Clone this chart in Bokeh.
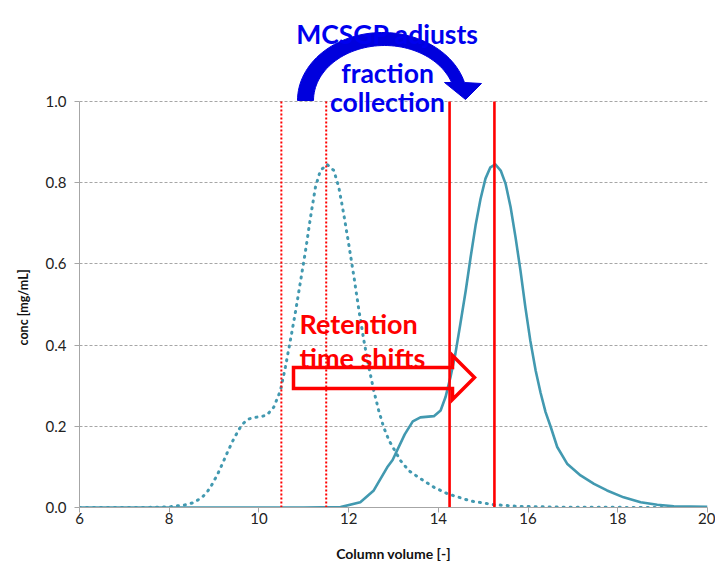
import numpy as np
from bokeh.plotting import figure
from bokeh.models import Range1d, FixedTicker, Title
from bokeh.core.properties import value
from bokeh.embed import file_html
from bokeh.resources import INLINE

# ---------------- data ----------------
# solid curve (peak after the retention time shift)
solid_x = [6.0, 11.0, 11.82, 12.26, 12.56, 12.86, 12.98, 13.25, 13.43, 13.60, 13.90, 14.05,
           14.16, 14.27, 14.38, 14.49, 14.61, 14.72, 14.83, 14.94, 15.05, 15.16, 15.27,
           15.39, 15.50, 15.61, 15.72, 15.83, 15.94, 16.05, 16.17, 16.28, 16.39, 16.50,
           16.65, 16.87, 17.17, 17.47, 17.76, 18.13, 18.51, 18.88, 19.25, 20.0]
solid_y = [0.0, 0.0, 0.001, 0.013, 0.042, 0.099, 0.117, 0.18, 0.212, 0.222, 0.225, 0.239,
           0.272, 0.321, 0.379, 0.452, 0.534, 0.617, 0.695, 0.760, 0.810, 0.838, 0.845,
           0.830, 0.797, 0.740, 0.666, 0.584, 0.493, 0.411, 0.337, 0.282, 0.235, 0.200,
           0.149, 0.108, 0.079, 0.058, 0.042, 0.025, 0.013, 0.0066, 0.003, 0.0015]
# dotted curve (original peak)
dotted_x = [6.0, 7.5, 8.03, 8.36, 8.51, 8.62, 8.75, 8.85, 8.93, 9.00, 9.07, 9.13, 9.19,
            9.25, 9.31, 9.37, 9.43, 9.50, 9.57, 9.66, 9.77, 9.91, 10.06, 10.18, 10.33,
            10.48, 10.59, 10.70, 10.82, 10.93, 11.04, 11.15, 11.26, 11.37, 11.52, 11.67,
            11.78, 11.89, 12.00, 12.12, 12.23, 12.34, 12.45, 12.56, 12.67, 12.78, 12.90,
            13.16, 13.35, 13.60, 13.90, 14.20, 14.72, 15.24, 15.83, 17.0, 20.0]
dotted_y = [0.0, 0.0, 0.002, 0.0066, 0.011, 0.017, 0.027, 0.039, 0.052, 0.066, 0.080,
            0.094, 0.109, 0.124, 0.139, 0.153, 0.167, 0.181, 0.195, 0.208, 0.218, 0.222,
            0.224, 0.228, 0.247, 0.288, 0.346, 0.411, 0.485, 0.559, 0.633, 0.715, 0.789,
            0.830, 0.845, 0.830, 0.789, 0.723, 0.650, 0.567, 0.485, 0.411, 0.346, 0.288,
            0.239, 0.198, 0.165, 0.115, 0.090, 0.071, 0.050, 0.034, 0.016, 0.007, 0.0025,
            0.0005, 0.0]
cut_old = [10.5, 11.5]       # dotted red cut lines
cut_new = [14.25, 15.25]     # solid red cut lines
x_ticks = [6, 8, 10, 12, 14, 16, 18, 20]
y_ticks = [0.0, 0.2, 0.4, 0.6, 0.8, 1.0]
y_tick_labels = {0.0: "0.0", 0.2: "0.2", 0.4: "0.4", 0.6: "0.6", 0.8: "0.8", 1.0: "1.0"}

TEAL = "#4299B0"
RED = "#FF0000"
BLUE = "#0000EE"
FONT = "Lato"

Y_TOP = 507 / 406.0

p = figure(frame_width=628, frame_height=507, output_backend="svg", toolbar_location=None,
           x_range=Range1d(6, 20), y_range=Range1d(0, Y_TOP),
           min_border_left=79, min_border_right=8, min_border_top=0, min_border_bottom=54)
p.outline_line_color = None
p.background_fill_color = "white"
p.border_fill_color = "white"

# grid
p.xgrid.grid_line_color = None
p.ygrid.grid_line_color = "#A6A6A6"
p.ygrid.grid_line_dash = "3 2"
p.ygrid.grid_line_width = 1
p.ygrid.ticker = FixedTicker(ticks=[0.2, 0.4, 0.6, 0.8, 1.0])

# axes
for ax in (p.xaxis, p.yaxis):
    ax.axis_line_color = "#A6A6A6"
    ax.major_tick_line_color = "#A6A6A6"
    ax.minor_tick_line_color = None
    ax.major_tick_in = 0
    ax.major_tick_out = 5
    ax.major_label_text_font = FONT
    ax.major_label_text_font_size = "15px"
    ax.major_label_text_color = "#222222"
    ax.axis_label_text_font = FONT
    ax.axis_label_text_font_style = "bold"
    ax.axis_label_text_color = "#111111"
p.xaxis.ticker = FixedTicker(ticks=x_ticks)
p.yaxis.ticker = FixedTicker(ticks=y_ticks)
p.yaxis.major_label_overrides = y_tick_labels
p.yaxis.bounds = (0, 1)
p.xaxis.axis_label = "Column volume [-]"
p.xaxis.axis_label_text_font_size = "14px"
p.xaxis.major_label_standoff = 0
p.xaxis.axis_label_standoff = 18
p.yaxis.major_label_standoff = 8

# y axis title, centred on the 0..1 part of the axis (offset from the bottom of the frame)
ytitle = Title(text="conc [mg/mL]", align="left", offset=162, standoff=24,
               text_font=FONT, text_font_style="bold", text_font_size="12.5px",
               text_color="#111111")
p.add_layout(ytitle, "left")

# helpers for annotation placement (reference pixel -> data)
def dx(px):
    return 6 + (px - 79) / 44.857
def dy(py):
    return (507 - py) / 406.0

# curves
p.line(dotted_x, dotted_y, line_color=TEAL, line_width=3, line_dash="1 6", line_cap="round")
p.line(solid_x, solid_y, line_color=TEAL, line_width=2.6, line_join="round")

# cut lines
p.segment(x0=cut_old, y0=[0] * len(cut_old), x1=cut_old, y1=[1.0] * len(cut_old),
          line_color=RED, line_width=2, line_dash="2 2")
p.segment(x0=cut_new, y0=[0] * len(cut_new), x1=cut_new, y1=[1.0] * len(cut_new),
          line_color=RED, line_width=2.6)

# blue curved arrow
cxo, cyo, ao, bo = 382, 100, 85, 68
cxi, cyi, ai, bi = 384, 100, 71, 55
to_end = np.arcsin(18 / bo)
ti_end = np.arcsin(18 / bi)
to = np.linspace(np.pi, to_end, 60)
ti = np.linspace(ti_end, np.pi, 60)
outer_px = [(cxo + ao * np.cos(t), cyo - bo * np.sin(t)) for t in to]
inner_px = [(cxi + ai * np.cos(t), cyi - bi * np.sin(t)) for t in ti]
head_px = [(481, 83), (465, 99), (444, 82)]
poly = outer_px + head_px + inner_px
p.patch([dx(a) for a, b in poly], [dy(b) for a, b in poly],
        fill_color="#0000DD", line_color="#0000DD", line_width=1)

# red hollow arrow
arrow_px = [(293, 367), (452, 367), (452, 355), (474, 377), (452, 399), (452, 388), (293, 388)]
p.patch([dx(a) for a, b in arrow_px], [dy(b) for a, b in arrow_px],
        fill_alpha=0, line_color=RED, line_width=3.5, line_join="miter")

# texts
blue_lines = ["MCSGP adjusts", "fraction", "collection"]
blue_base = [33, 72, 101]
p.text(x=[dx(387)] * 3, y=[dy(b) for b in blue_base], text=blue_lines,
       text_font=value(FONT), text_font_style="bold", text_font_size="26.5px",
       text_color=BLUE, text_align="center", text_baseline="alphabetic")

red_lines = ["Retention", "time shifts"]
red_base = [323, 357]
p.text(x=[dx(299)] * 2, y=[dy(b) for b in red_base], text=red_lines,
       text_font=value(FONT), text_font_style="bold", text_font_size="27px",
       text_color=RED, text_align="left", text_baseline="alphabetic")

open("out.html", "w").write(file_html(p, INLINE))
